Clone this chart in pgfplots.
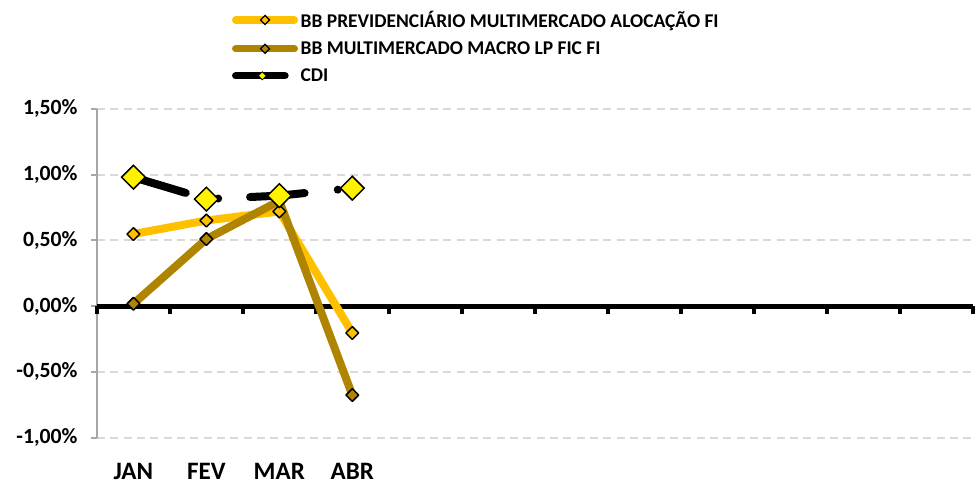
\documentclass[border=0pt]{standalone}
\usepackage{fontspec}
\setmainfont{Carlito}
\usepackage{pgfplots}
\pgfplotsset{compat=1.18}

\definecolor{prevcol}{HTML}{FFC000}
\definecolor{macrocol}{HTML}{AF8400}
\definecolor{gridcol}{HTML}{D9D9D9}
\definecolor{axcol}{HTML}{A6A6A6}

\newcommand{\xlbl}{\bfseries\fontsize{18.8}{22}\selectfont}
\newcommand{\ylbl}{\bfseries\fontsize{16.3}{19}\selectfont}
\newcommand{\leglbl}{\bfseries\fontsize{14.6}{17}\selectfont}

\begin{document}
\begin{tikzpicture}
\begin{axis}[
    scale only axis,
    width=657pt, height=246.75pt,
    xmin=0.5, xmax=12.5,
    ymin=-1, ymax=1.5,
    clip=false,
    axis y line*=left,
    axis x line*=bottom,
    x axis line style={draw=none},
    y axis line style={axcol, line width=1.5pt},
    xtick={1,2,3,4},
    xticklabels={JAN,FEV,MAR,ABR},
    major x tick style={draw=none},
    xticklabel style={font=\xlbl, yshift=-11pt},
    ytick={-1,-0.5,0,0.5,1,1.5},
    ytick style={axcol, line width=1.5pt},
    tick align=outside,
    major tick length=4.5pt,
    yticklabel style={font=\ylbl, xshift=-6.5pt},
    /pgf/number format/assume math mode=true,
    yticklabel={\pgfmathprintnumber[fixed, fixed zerofill, precision=2, use comma]{\tick}\%},
    ymajorgrids,
    major grid style={gridcol, line width=1.5pt, dash pattern=on 6pt off 4pt},
    legend style={at={(0.154,1.307)}, anchor=north west, draw=none, fill=none,
        inner sep=0pt, font=\leglbl, row sep=5.2pt, cells={anchor=west}},
    legend cell align=left,
]
% page frame (keeps the white margins of the original)
\path (rel axis cs:-0.1107,-0.137) rectangle (rel axis cs:1.0023,1.331);

% legend samples
\addlegendimage{legend image code/.code={
    \draw[prevcol, line width=5.5pt, line cap=round] (0pt,0pt) -- (44pt,0pt);
    \draw[black, fill=prevcol, line width=1pt] (22pt,3.4pt) -- (25.4pt,0pt) -- (22pt,-3.4pt) -- (18.6pt,0pt) -- cycle;}}
\addlegendentry{BB PREVIDENCIÁRIO MULTIMERCADO ALOCAÇÃO FI}
\addlegendimage{legend image code/.code={
    \draw[macrocol, line width=5.5pt, line cap=round] (0pt,0pt) -- (44pt,0pt);
    \draw[black, fill=macrocol, line width=1pt] (22pt,3.4pt) -- (25.4pt,0pt) -- (22pt,-3.4pt) -- (18.6pt,0pt) -- cycle;}}
\addlegendentry{BB MULTIMERCADO MACRO LP FIC FI}
\addlegendimage{legend image code/.code={
    \draw[black, line width=5.5pt, line cap=round] (0pt,0pt) -- (37pt,0pt);
    \draw[black, fill=yellow, line width=0.6pt] (20pt,3pt) -- (23pt,0pt) -- (20pt,-3pt) -- (17pt,0pt) -- cycle;}}
\addlegendentry{CDI}

% zero line with category ticks
\draw[black, line width=3.75pt] (axis cs:0.5,0) -- (axis cs:12.5,0);
\pgfplotsinvokeforeach{0.5,1.5,...,12.5}{
    \draw[black, line width=3pt] (axis cs:#1,0) -- ++(0pt,-6pt);
}

% BB PREVIDENCIARIO
\addplot[forget plot, prevcol, line width=6pt, line cap=round, line join=round,
    mark=square*, mark size=3.4pt,
    mark options={rotate=45, fill=prevcol, draw=black, line width=1.1pt}]
    coordinates {(1,0.548) (2,0.651) (3,0.72) (4,-0.204)};
% BB MULTIMERCADO MACRO
\addplot[forget plot, macrocol, line width=6pt, line cap=round, line join=round,
    mark=square*, mark size=3.4pt,
    mark options={rotate=45, fill=macrocol, draw=black, line width=1.1pt}]
    coordinates {(1,0.018) (2,0.51) (3,0.80) (4,-0.676)};
% CDI
\addplot[forget plot, black, line width=6pt, line cap=round,
    dash pattern=on 41pt off 25pt on 0.01pt off 24pt,
    mark=square*, mark size=6.3pt,
    mark options={rotate=45, solid, fill=yellow, draw=black, line width=1.1pt}]
    coordinates {(1,0.98) (2,0.814) (3,0.84) (4,0.897)};
\end{axis}
\end{tikzpicture}
\end{document}
